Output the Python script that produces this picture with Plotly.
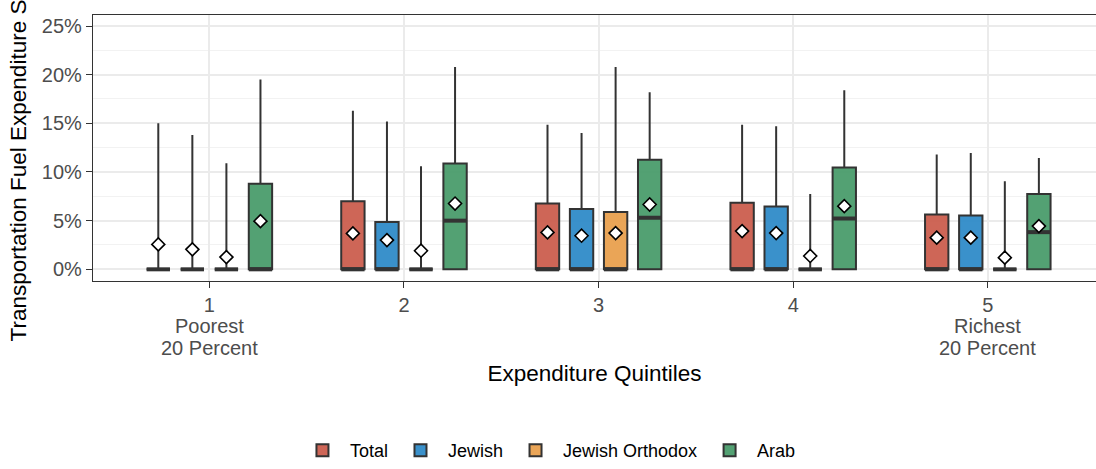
import plotly.graph_objects as go

# ---- data (percent) ----
quintiles = [1, 2, 3, 4, 5]
tick_labels = ["1", "2", "3", "4", "5"]
sub_labels = {1: ["Poorest", "20 Percent"], 5: ["Richest", "20 Percent"]}
y_ticks = [0, 5, 10, 15, 20, 25]
y_tick_labels = ["0%", "5%", "10%", "15%", "20%", "25%"]
series = ["Total", "Jewish", "Jewish Orthodox", "Arab"]
colors = ["#CB5E4E", "#2F8BC8", "#E9A04E", "#4A9C6B"]

q1 = {
    "Total":           [0, 0, 0, 0, 0],
    "Jewish":          [0, 0, 0, 0, 0],
    "Jewish Orthodox": [0, 0, 0, 0, 0],
    "Arab":            [0, 0, 0, 0, 0],
}
median = {
    "Total":           [0, 0, 0, 0, 0],
    "Jewish":          [0, 0, 0, 0, 0],
    "Jewish Orthodox": [0, 0, 0, 0, 0],
    "Arab":            [0, 5.0, 5.3, 5.22, 3.82],
}
q3 = {
    "Total":           [0, 7.0, 6.76, 6.83, 5.64],
    "Jewish":          [0, 4.85, 6.2, 6.45, 5.53],
    "Jewish Orthodox": [0, 0, 5.9, 0, 0],
    "Arab":            [8.78, 10.86, 11.27, 10.45, 7.75],
}
upper = {
    "Total":           [15.0, 16.3, 14.86, 14.86, 11.8],
    "Jewish":          [13.8, 15.2, 14.0, 14.7, 11.95],
    "Jewish Orthodox": [10.9, 10.6, 20.8, 7.75, 9.05],
    "Arab":            [19.5, 20.8, 18.2, 18.4, 11.44],
}
lower = {
    "Total":           [0, 0, 0, 0, 0],
    "Jewish":          [0, 0, 0, 0, 0],
    "Jewish Orthodox": [0, 0, 0, 0, 0],
    "Arab":            [0, 0, 0, 0, 0],
}
mean = {
    "Total":           [2.56, 3.69, 3.79, 3.93, 3.25],
    "Jewish":          [2.05, 3.0, 3.45, 3.72, 3.25],
    "Jewish Orthodox": [1.26, 1.91, 3.72, 1.37, 1.2],
    "Arab":            [4.95, 6.76, 6.66, 6.49, 4.44],
}

DODGE = 0.175
BOXW = 0.12
LINE = "#333333"
FONT = "Liberation Sans, Arial, sans-serif"
TICKCOL = "#4D4D4D"


def hex_rgba(h, a):
    h = h.lstrip("#")
    return "rgba(%d,%d,%d,%.2f)" % (int(h[0:2], 16), int(h[2:4], 16), int(h[4:6], 16), a)


fig = go.Figure()
n = len(series)
for i, s in enumerate(series):
    xs = [q + (i - (n - 1) / 2) * DODGE for q in quintiles]
    fig.add_trace(go.Box(
        name=s, x=xs, q1=q1[s], median=median[s], q3=q3[s],
        lowerfence=lower[s], upperfence=upper[s],
        width=BOXW, whiskerwidth=0,
        fillcolor=hex_rgba(colors[i], 0.95),
        line=dict(color=LINE, width=2),
        boxpoints=False, hoverinfo="skip",
    ))

# thick median bars
for i, s in enumerate(series):
    xs = [q + (i - (n - 1) / 2) * DODGE for q in quintiles]
    mx, my = [], []
    for x, m in zip(xs, median[s]):
        mx += [x - BOXW / 2, x + BOXW / 2, None]
        my += [m, m, None]
    fig.add_trace(go.Scatter(x=mx, y=my, mode="lines",
                             line=dict(color=LINE, width=4),
                             showlegend=False, hoverinfo="skip"))

# mean diamonds
for i, s in enumerate(series):
    xs = [q + (i - (n - 1) / 2) * DODGE for q in quintiles]
    fig.add_trace(go.Scatter(x=xs, y=mean[s], mode="markers",
                             marker=dict(symbol="diamond", size=10, color="white",
                                         line=dict(color="black", width=1.6)),
                             showlegend=False, hoverinfo="skip"))

# extra lines under the first / last tick labels
annotations = []
for q, lines in sub_labels.items():
    for j, txt in enumerate(lines):
        annotations.append(dict(
            x=q, xref="x", y=-0.17 - 0.083 * j, yref="paper",
            text=txt, showarrow=False, xanchor="center", yanchor="middle",
            font=dict(size=20, color=TICKCOL, family=FONT),
        ))

fig.update_layout(
    width=1096, height=469,
    margin=dict(l=93, r=0, t=15, b=187),
    paper_bgcolor="white", plot_bgcolor="white",
    font=dict(family=FONT, color="black"),
    showlegend=True,
    annotations=annotations,
    legend=dict(orientation="h", x=0.4536, xanchor="center", y=-0.637, yanchor="middle",
                font=dict(size=18, color="black"), traceorder="normal", itemwidth=45),
    xaxis=dict(
        range=[0.402, 5.556], tickmode="array", tickvals=quintiles, ticktext=tick_labels,
        showgrid=True, gridcolor="#EBEBEB", gridwidth=1.5, zeroline=False,
        showline=True, linecolor=LINE, linewidth=1.3, mirror=True,
        ticks="outside", ticklen=6, tickcolor=LINE, tickwidth=1.3,
        tickfont=dict(size=20, color=TICKCOL),
        title=dict(text="Expenditure Quintiles", font=dict(size=22.5, color="black"), standoff=50),
    ),
    yaxis=dict(
        range=[-1.2, 26.13], tickmode="array", tickvals=y_ticks, ticktext=y_tick_labels,
        showgrid=True, gridcolor="#EBEBEB", gridwidth=1.5, zeroline=False,
        minor=dict(tickvals=[2.5, 7.5, 12.5, 17.5, 22.5], showgrid=True,
                   gridcolor="#F2F2F2", gridwidth=1, ticks=""),
        showline=True, linecolor=LINE, linewidth=1.3, mirror=False,
        ticks="outside", ticklen=6, tickcolor=LINE, tickwidth=1.3,
        tickfont=dict(size=20, color=TICKCOL),
        title=dict(text="Transportation Fuel Expenditure Share", font=dict(size=22.5, color="black"), standoff=8),
    ),
)

fig.write_html("out.html")
